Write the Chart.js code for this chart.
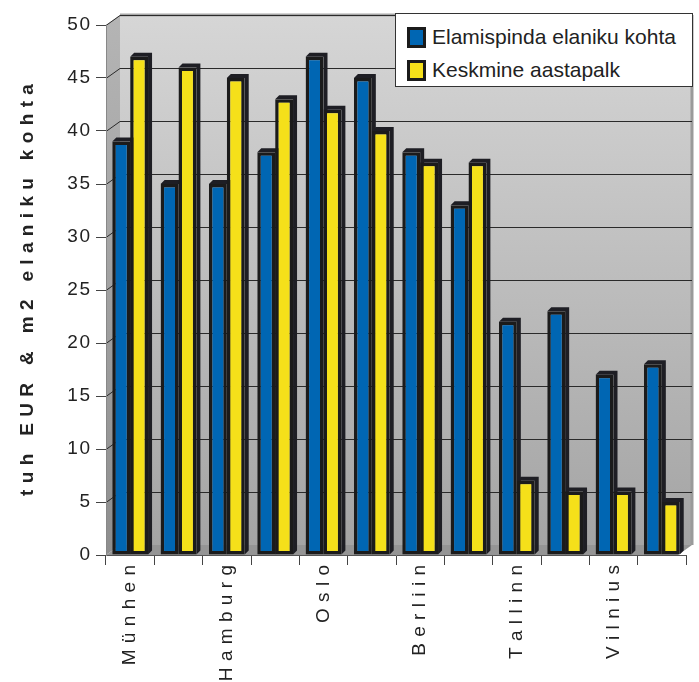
<!DOCTYPE html>
<html>
<head>
<meta charset="utf-8">
<script src="https://cdn.jsdelivr.net/npm/chart.js@4.4.1/dist/chart.umd.min.js"></script>
<style>
  body { margin: 0; background: #fff; }
  #wrap { position: relative; width: 699px; height: 682px; }
  .legend {
    position: absolute; left: 395px; top: 13px; width: 296px; height: 72px;
    border: 1px solid #333; background: #fff;
    font-family: Arial, "Liberation Sans", sans-serif; font-size: 21px; color: #222;
  }
  .item { position: absolute; left: 11px; height: 22px; line-height: 22px; white-space: nowrap; }
  .sw { display: inline-block; width: 13px; height: 15px; border: 3px solid #1b1b1b; vertical-align: -4px; margin-right: 6px; }
</style>
</head>
<body>
<div id="wrap">
  <canvas id="chart" width="699" height="682"></canvas>
  <div class="legend">
    <div class="item" style="top:12px"><span class="sw" style="background:#0066b3"></span>Elamispinda elaniku kohta</div>
    <div class="item" style="top:45px"><span class="sw" style="background:#f5e01a"></span>Keskmine aastapalk</div>
  </div>
</div>
<script>
// only every other city name is printed under the axis
const cities = ['Münhen', '', 'Hamburg', '', 'Oslo', '', 'Berliin', '', 'Tallinn', '', 'Vilnius', ''];
const areaPerPerson = [39, 35, 35, 38, 47, 45, 38, 33, 22, 23, 17, 18];
const avgSalary = [47, 46, 45, 43, 42, 40, 37, 37, 7, 6, 6, 5];
const yTicks = [0, 5, 10, 15, 20, 25, 30, 35, 40, 45, 50];

const spaced = (s, gap) => String(s).split('').join(gap);

const DX = 14, DY = 10;

// gray 3D walls and back gridlines
const walls = {
  id: 'walls',
  beforeDraw(chart) {
    const ctx = chart.ctx, a = chart.chartArea, y = chart.scales.y;
    ctx.save();
    let g = ctx.createLinearGradient(0, a.top - DY, 0, a.bottom - DY);
    g.addColorStop(0, '#d6d6d6');
    g.addColorStop(1, '#a4a4a4');
    ctx.fillStyle = g;
    ctx.fillRect(a.left + DX, a.top - DY, a.right - a.left - 8, a.bottom - a.top);
    // left wall
    g = ctx.createLinearGradient(0, a.top, 0, a.bottom);
    g.addColorStop(0, '#b4b4b4');
    g.addColorStop(1, '#8e8e8e');
    ctx.fillStyle = g;
    ctx.beginPath();
    ctx.moveTo(a.left, a.top); ctx.lineTo(a.left + DX, a.top - DY);
    ctx.lineTo(a.left + DX, a.bottom - DY); ctx.lineTo(a.left, a.bottom);
    ctx.closePath(); ctx.fill();
    // floor
    ctx.fillStyle = '#959595';
    ctx.beginPath();
    ctx.moveTo(a.left, a.bottom); ctx.lineTo(a.left + DX, a.bottom - DY);
    ctx.lineTo(a.right + 6, a.bottom - DY); ctx.lineTo(a.right - 8, a.bottom);
    ctx.closePath(); ctx.fill();
    // right and top edges
    ctx.strokeStyle = '#9a9a9a'; ctx.lineWidth = 3;
    ctx.beginPath();
    ctx.moveTo(a.right + 6, a.top - DY); ctx.lineTo(a.right + 6, a.bottom - DY);
    ctx.stroke();
    ctx.strokeStyle = '#a8a8a8';
    ctx.beginPath();
    ctx.moveTo(a.left + DX, a.top - DY); ctx.lineTo(a.right + 6, a.top - DY);
    ctx.stroke();
    // gridlines
    ctx.lineWidth = 1;
    yTicks.forEach(v => {
      if (v === 0) return;
      const py = Math.round(y.getPixelForValue(v)) + 0.5;
      ctx.strokeStyle = '#2a2a2a';
      ctx.beginPath();
      ctx.moveTo(a.left, py); ctx.lineTo(a.left + DX, py - DY);
      ctx.lineTo(a.right + 6, py - DY);
      ctx.stroke();
    });
    ctx.restore();
  }
};

// dark top and side faces for each bar
const depth = {
  id: 'depth',
  beforeDatasetsDraw(chart) {
    const ctx = chart.ctx, d = 4;
    ctx.save();
    chart.data.datasets.forEach((ds, i) => {
      chart.getDatasetMeta(i).data.forEach(bar => {
        const l = bar.x - bar.width / 2, r = bar.x + bar.width / 2;
        ctx.fillStyle = '#1e1e24';
        ctx.beginPath();
        ctx.moveTo(l, bar.y); ctx.lineTo(l + d, bar.y - d);
        ctx.lineTo(r + d, bar.y - d); ctx.lineTo(r + d, bar.base - d);
        ctx.lineTo(r, bar.base); ctx.lineTo(r, bar.y);
        ctx.closePath(); ctx.fill();
      });
    });
    ctx.restore();
  }
};

new Chart(document.getElementById('chart'), {
  type: 'bar',
  data: {
    labels: cities,
    datasets: [
      { label: 'Elamispinda elaniku kohta', data: areaPerPerson, backgroundColor: '#0066b3',
        borderColor: '#1b1b1b', borderWidth: 3.5, borderSkipped: false },
      { label: 'Keskmine aastapalk', data: avgSalary, backgroundColor: '#f5e01a',
        borderColor: '#1b1b1b', borderWidth: 3.5, borderSkipped: false }
    ]
  },
  options: {
    responsive: false,
    animation: false,
    layout: { padding: { top: 25, right: 13, left: 0, bottom: 0 } },
    datasets: { bar: { categoryPercentage: 0.74, barPercentage: 1 } },
    plugins: { legend: { display: false }, tooltip: { enabled: false } },
    scales: {
      x: {
        afterFit: s => { s.height = 127; },
        grid: { offset: true, drawOnChartArea: false, tickLength: 10, color: '#444' },
        border: { color: '#555' },
        ticks: {
          autoSkip: false, minRotation: 90, maxRotation: 90, padding: 0,
          color: '#222', font: { family: 'Arial, "Liberation Sans"', size: 19 },
          callback: (v, i) => spaced(cities[i], '\u2004')
        }
      },
      y: {
        min: 0, max: 50,
        afterFit: s => { s.width = 106; },
        afterBuildTicks: s => { s.ticks = yTicks.map(v => ({ value: v })); },
        grid: { drawOnChartArea: false, tickLength: 10, color: '#444' },
        border: { color: '#888' },
        ticks: {
          padding: 6, color: '#222', font: { family: 'Arial, "Liberation Sans"', size: 19 },
          callback: v => spaced(v, '\u200a')
        },
        title: {
          display: true, text: spaced('tuh EUR & m2 elaniku kohta', '\u2004'),
          color: '#222', padding: { top: 16, bottom: 0 },
          font: { family: 'Arial, "Liberation Sans"', size: 19, weight: 'bold' }
        }
      }
    }
  },
  plugins: [walls, depth]
});
</script>
</body>
</html>
